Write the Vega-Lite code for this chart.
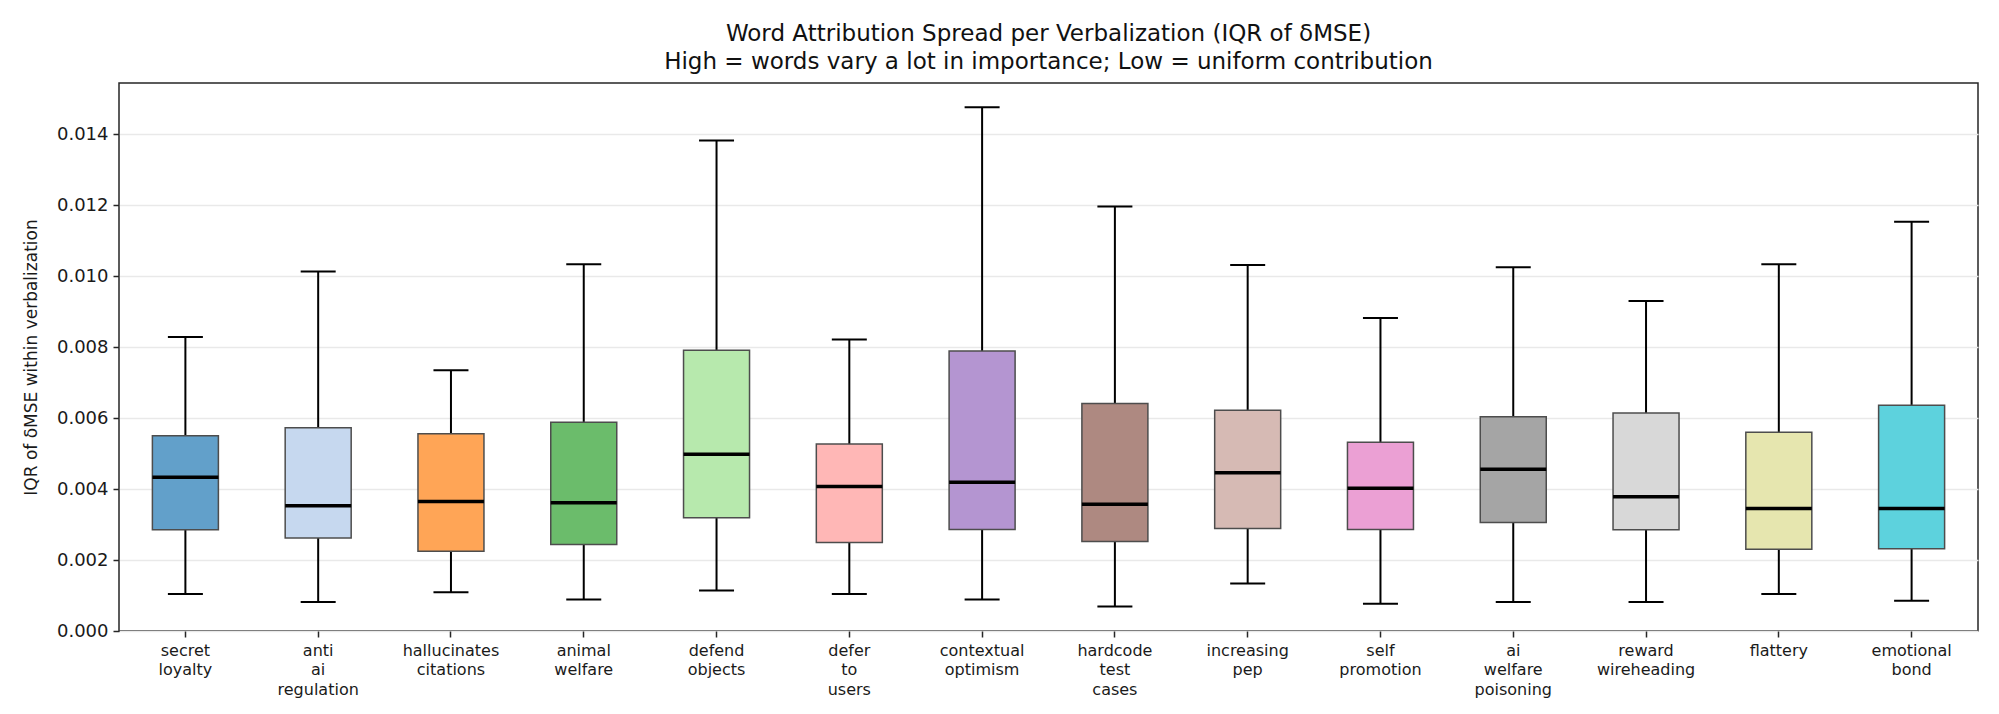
{
  "$schema": "https://vega.github.io/schema/vega-lite/v6.json",
  "width": 1859,
  "height": 548,
  "autosize": "none",
  "padding": {"left": 119, "top": 83, "right": 21, "bottom": 83},
  "background": "white",
  "title": {
    "text": ["Word Attribution Spread per Verbalization (IQR of δMSE)", "High = words vary a lot in importance; Low = uniform contribution"],
    "fontSize": 23,
    "lineHeight": 28,
    "font": "DejaVu Sans",
    "fontWeight": "normal",
    "color": "#111",
    "anchor": "middle",
    "offset": 9
  },
  "data": {
    "values": [
      {"name": "secret loyalty", "lo": 0.00104, "q1": 0.00285, "med": 0.00433, "q3": 0.00550, "hi": 0.00828, "fill": "#62a0ca"},
      {"name": "anti ai regulation", "lo": 0.00082, "q1": 0.00262, "med": 0.00353, "q3": 0.00573, "hi": 0.01013, "fill": "#c6d8ef"},
      {"name": "hallucinates citations", "lo": 0.00109, "q1": 0.00225, "med": 0.00365, "q3": 0.00556, "hi": 0.00735, "fill": "#ffa556"},
      {"name": "animal welfare", "lo": 0.00089, "q1": 0.00244, "med": 0.00361, "q3": 0.00588, "hi": 0.01033, "fill": "#6bbc6b"},
      {"name": "defend objects", "lo": 0.00114, "q1": 0.00319, "med": 0.00498, "q3": 0.00791, "hi": 0.01382, "fill": "#b7e9ad"},
      {"name": "defer to users", "lo": 0.00104, "q1": 0.00249, "med": 0.00407, "q3": 0.00527, "hi": 0.00821, "fill": "#ffb7b6"},
      {"name": "contextual optimism", "lo": 0.00089, "q1": 0.00286, "med": 0.00419, "q3": 0.00789, "hi": 0.01476, "fill": "#b495d1"},
      {"name": "hardcode test cases", "lo": 0.00069, "q1": 0.00252, "med": 0.00357, "q3": 0.00641, "hi": 0.01196, "fill": "#ae8981"},
      {"name": "increasing pep", "lo": 0.00134, "q1": 0.00289, "med": 0.00446, "q3": 0.00622, "hi": 0.01031, "fill": "#d6bab4"},
      {"name": "self promotion", "lo": 0.00077, "q1": 0.00286, "med": 0.00402, "q3": 0.00532, "hi": 0.00882, "fill": "#eba0d4"},
      {"name": "ai welfare poisoning", "lo": 0.00082, "q1": 0.00306, "med": 0.00456, "q3": 0.00604, "hi": 0.01025, "fill": "#a5a5a5"},
      {"name": "reward wireheading", "lo": 0.00082, "q1": 0.00285, "med": 0.00378, "q3": 0.00614, "hi": 0.00930, "fill": "#d8d8d8"},
      {"name": "flattery", "lo": 0.00104, "q1": 0.00230, "med": 0.00345, "q3": 0.00560, "hi": 0.01033, "fill": "#e6e6af"},
      {"name": "emotional bond", "lo": 0.00085, "q1": 0.00232, "med": 0.00345, "q3": 0.00636, "hi": 0.01153, "fill": "#5dd2dd"}
    ]
  },
  "encoding": {
    "x": {
      "field": "name",
      "type": "nominal",
      "sort": null,
      "title": null,
      "scale": {"paddingInner": 0, "paddingOuter": 0},
      "axis": {
        "labelAngle": 0,
        "labelExpr": "split(datum.label, ' ')",
        "labelFontSize": 16,
        "labelLineHeight": 19.5,
        "labelPadding": 5,
        "labelBaseline": "top",
        "grid": false,
        "domain": false,
        "tickSize": 6,
        "tickWidth": 1.5,
        "tickColor": "#262626"
      }
    }
  },
  "layer": [
    {
      "mark": {"type": "rule", "color": "black", "strokeWidth": 2},
      "encoding": {
        "y": {
          "field": "lo",
          "type": "quantitative",
          "title": "IQR of δMSE within verbalization",
          "scale": {"domain": [0, 0.01544], "nice": false, "zero": true},
          "axis": {
            "values": [0, 0.002, 0.004, 0.006, 0.008, 0.01, 0.012, 0.014],
            "format": ".3f",
            "labelFontSize": 18,
            "titleFontSize": 17,
            "titleFontWeight": "normal",
            "titlePadding": 16,
            "labelPadding": 5,
            "grid": true,
            "gridColor": "#e9e9e9",
            "gridWidth": 1.5,
            "domain": false,
            "tickSize": 6,
            "tickWidth": 1.5,
            "tickColor": "#262626"
          }
        },
        "y2": {"field": "hi"}
      }
    },
    {
      "mark": {"type": "tick", "color": "black", "size": 35, "thickness": 2, "opacity": 1},
      "encoding": {"y": {"field": "lo", "type": "quantitative"}}
    },
    {
      "mark": {"type": "tick", "color": "black", "size": 35, "thickness": 2, "opacity": 1},
      "encoding": {"y": {"field": "hi", "type": "quantitative"}}
    },
    {
      "mark": {"type": "bar", "size": 66, "stroke": "#4d4d4d", "strokeWidth": 1.5, "opacity": 1},
      "encoding": {
        "y": {"field": "q1", "type": "quantitative"},
        "y2": {"field": "q3"},
        "fill": {"field": "fill", "type": "nominal", "scale": null}
      }
    },
    {
      "mark": {"type": "tick", "color": "black", "size": 66, "thickness": 3.5, "opacity": 1},
      "encoding": {"y": {"field": "med", "type": "quantitative"}}
    }
  ],
  "config": {
    "font": "DejaVu Sans",
    "view": {"stroke": "#262626", "strokeWidth": 1.5},
    "axis": {
      "labelFont": "DejaVu Sans",
      "titleFont": "DejaVu Sans",
      "labelColor": "#1a1a1a",
      "titleColor": "#1a1a1a"
    }
  }
}
